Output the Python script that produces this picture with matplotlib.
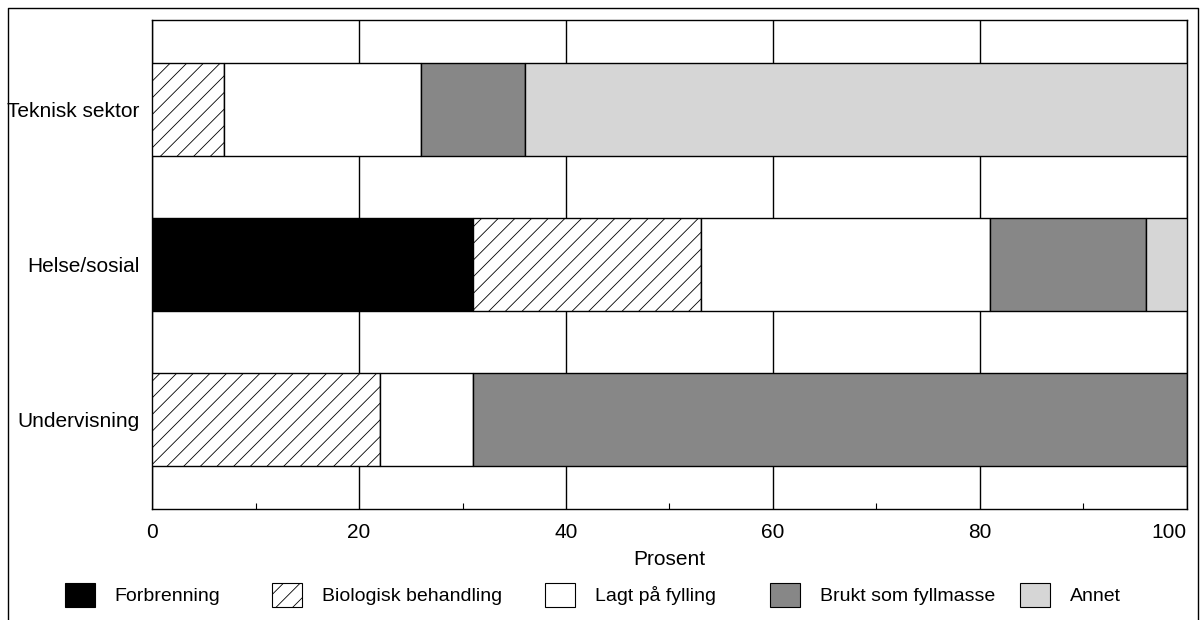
import numpy as np
import matplotlib
matplotlib.use("Agg")
import matplotlib.pyplot as plt
from matplotlib.patches import Patch
from matplotlib.lines import Line2D

plt.rcParams['font.family'] = ['Liberation Sans', 'DejaVu Sans']
plt.rcParams['hatch.linewidth'] = 0.6

sectors = ['Undervisning', 'Helse/sosial', 'Teknisk sektor']
categories = ['Forbrenning', 'Biologisk behandling', 'Lagt på fylling', 'Brukt som fyllmasse', 'Annet']
# percent shares, rows follow sectors order
forbrenning = [0, 31, 0]
biologisk = [22, 22, 7]
lagt = [9, 28, 19]
brukt = [69, 15, 10]
annet = [0, 4, 64]
values = [forbrenning, biologisk, lagt, brukt, annet]

faces = ['black', 'white', 'white', '#878787', '#d6d6d6']
hatches = [None, '//', None, None, None]

fig = plt.figure(figsize=(12.01, 6.2), dpi=100)
ax = fig.add_axes([0.1266, 0.179, 0.9883 - 0.1266, 0.9677 - 0.179])

y = np.arange(len(sectors))
left = np.zeros(len(sectors))
for vals, fc, h in zip(values, faces, hatches):
    vals = np.array(vals, dtype=float)
    ax.barh(y, vals, left=left, height=0.6, color=fc, edgecolor='black',
            linewidth=1.0, hatch=h, zorder=3)
    left += vals

ax.set_xlim(0, 100)
ax.set_ylim(-0.575, 2.575)
ax.set_yticks(y)
ax.set_yticklabels(sectors, fontsize=15)
ax.set_xticks([0, 20, 40, 60, 80, 100])
ax.set_xticks([10, 30, 50, 70, 90], minor=True)
ax.tick_params(axis='y', length=0, pad=9)
ax.tick_params(axis='x', which='major', length=0, pad=10, labelsize=15)
ax.tick_params(axis='x', which='minor', direction='in', length=4, width=0.8)
ax.get_xticklabels()[-1].set_horizontalalignment('right')
ax.grid(axis='x', which='major', color='black', linewidth=1.0, zorder=0)
ax.set_axisbelow(True)
for s in ax.spines.values():
    s.set_linewidth(1.0)
ax.set_xlabel('Prosent', fontsize=15, labelpad=6)

# legend entries placed one by one, like the original
leg_x = [65, 272, 545, 770, 1020]
for lab, fc, h, px in zip(categories, faces, hatches, leg_x):
    hd = Patch(facecolor=fc, edgecolor='black', hatch=h, linewidth=0.8)
    lg = fig.legend([hd], [lab], loc='center left', bbox_to_anchor=(px / 1201, 1 - 595 / 620),
                    frameon=False, fontsize=14, handlelength=1.55, handleheight=1.45,
                    handletextpad=1.0, borderpad=0, borderaxespad=0)

# outer frame (open at bottom)
fig.add_artist(Line2D([8 / 1201, 8 / 1201, 1198 / 1201, 1198 / 1201],
                      [0, 1 - 7.5 / 620, 1 - 7.5 / 620, 0],
                      transform=fig.transFigure, color='black', linewidth=1.0))

fig.savefig('out.png', dpi=100)
